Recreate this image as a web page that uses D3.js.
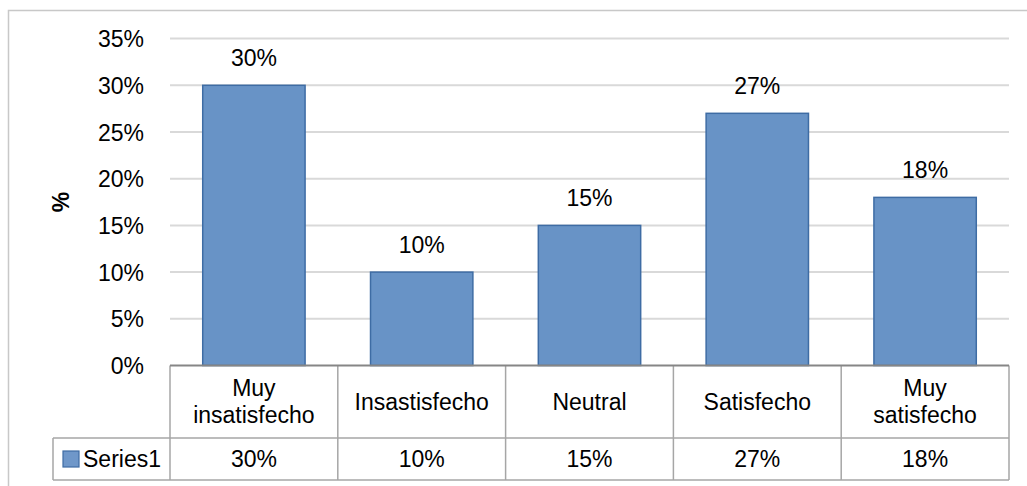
<!DOCTYPE html>
<html>
<head>
<meta charset="utf-8">
<script src="https://cdn.jsdelivr.net/npm/d3@7"></script>
<style>
  body { margin: 0; background: #fff; }
  svg text { font-family: "Liberation Sans", Arial, sans-serif; fill: #000; }
</style>
</head>
<body>
<svg id="chart" width="1027" height="486"></svg>
<script>
"use strict"
// Satisfaction survey, one series shown as bars plus an Excel style data table

var categories = [["Muy", "insatisfecho"], ["Insastisfecho"], ["Neutral"], ["Satisfecho"], ["Muy", "satisfecho"]],
    values = [0.30, 0.10, 0.15, 0.27, 0.18],
    yTicks = [0, 0.05, 0.10, 0.15, 0.20, 0.25, 0.30, 0.35],
    seriesName = "Series1",
    yTitle = "%";

var svg = d3.select("svg#chart"),
    fontSize = 23,
    plotLeft = 170, plotRight = 1009,  // plot area edges
    plotTop = 38.6, plotBase = 365.5,  // 35% line and 0% line
    rowSplit = 438, tableBottom = 480,
    legendLeft = 53,
    pct = d3.format(".0%");

var x = d3.scaleBand()
    .domain(d3.range(values.length))
    .range([plotLeft, plotRight])
    .paddingInner(0.39)
    .paddingOuter(0.195);

var y = d3.scaleLinear()
    .domain([0, 0.35])
    .range([plotBase, plotTop]);

// outer chart frame (cut at right and bottom like the source image)
svg.append("rect")
    .attr("x", 8.5).attr("y", 10.5)
    .attr("width", 1040).attr("height", 500)
    .attr("fill", "none")
    .attr("stroke", "#c8c8c8")
    .attr("stroke-width", 1.5);

// gridlines
svg.append("g")
  .selectAll("line")
    .data(yTicks.slice(1))
  .enter().append("line")
    .attr("x1", plotLeft).attr("x2", plotRight)
    .attr("y1", function(d) { return y(d); })
    .attr("y2", function(d) { return y(d); })
    .attr("stroke", "#d9d9d9")
    .attr("stroke-width", 2);

// y axis labels
var yAxis = d3.axisLeft(y).tickValues(yTicks).tickFormat(pct).tickSize(0).tickPadding(0);
var gy = svg.append("g")
    .attr("transform", "translate(144,0)")
    .call(yAxis);
gy.attr("font-family", null).attr("font-size", null);
gy.select(".domain").remove();
gy.selectAll("text")
    .attr("font-size", fontSize)
    .attr("fill", "#000")
    .attr("dy", "0.35em");

// axis title
svg.append("text")
    .attr("transform", "translate(61,202) rotate(-90)")
    .attr("text-anchor", "middle")
    .attr("dy", "0.35em")
    .attr("font-size", fontSize)
    .attr("font-weight", "bold")
    .text(yTitle);

// bars
svg.append("g")
  .selectAll("rect")
    .data(values)
  .enter().append("rect")
    .attr("x", function(d, i) { return x(i); })
    .attr("y", function(d) { return y(d); })
    .attr("width", x.bandwidth())
    .attr("height", function(d) { return y(0) - y(d); })
    .attr("fill", "#6893c6")
    .attr("stroke", "#3e6ca4")
    .attr("stroke-width", 1.5);

// data labels
svg.append("g")
  .selectAll("text")
    .data(values)
  .enter().append("text")
    .attr("x", function(d, i) { return x(i) + x.bandwidth() / 2; })
    .attr("y", function(d) { return y(d) - 19; })
    .attr("text-anchor", "middle")
    .attr("font-size", fontSize)
    .text(function(d) { return pct(d); });

// data table
var step = x.step(),
    colEdge = function(i) { return plotLeft + i * step; },
    table = svg.append("g").attr("stroke", "#a6a6a6").attr("stroke-width", 1.5);

table.append("line").attr("x1", legendLeft).attr("x2", plotRight).attr("y1", rowSplit).attr("y2", rowSplit);
table.append("line").attr("x1", legendLeft).attr("x2", plotRight).attr("y1", tableBottom).attr("y2", tableBottom);
table.append("line").attr("x1", legendLeft).attr("x2", legendLeft).attr("y1", rowSplit).attr("y2", tableBottom);
table.selectAll("line.col")
    .data(d3.range(values.length + 1))
  .enter().append("line")
    .attr("class", "col")
    .attr("x1", colEdge).attr("x2", colEdge)
    .attr("y1", plotBase).attr("y2", tableBottom);

// category axis line
svg.append("line")
    .attr("x1", plotLeft).attr("x2", plotRight)
    .attr("y1", plotBase).attr("y2", plotBase)
    .attr("stroke", "#868686")
    .attr("stroke-width", 2);

// category labels
var lineH = 27,
    catMid = (plotBase + rowSplit) / 2;
svg.append("g")
  .selectAll("text")
    .data(categories)
  .enter().append("text")
    .attr("x", function(d, i) { return x(i) + x.bandwidth() / 2; })
    .attr("y", function(d) { return catMid - (d.length - 1) * lineH / 2; })
    .attr("text-anchor", "middle")
    .attr("font-size", fontSize)
    .each(function(d) {
      var t = d3.select(this), cx = t.attr("x");
      d.forEach(function(s, k) {
        t.append("tspan").attr("x", cx).attr("dy", k == 0 ? "0.35em" : lineH).text(s);
      });
    });

// value row
var valMid = (rowSplit + tableBottom) / 2;
svg.append("g")
  .selectAll("text")
    .data(values)
  .enter().append("text")
    .attr("x", function(d, i) { return x(i) + x.bandwidth() / 2; })
    .attr("y", valMid)
    .attr("dy", "0.35em")
    .attr("text-anchor", "middle")
    .attr("font-size", fontSize)
    .text(function(d) { return pct(d); });

// legend key in the table
svg.append("rect")
    .attr("x", 63).attr("y", 451)
    .attr("width", 16).attr("height", 16)
    .attr("fill", "#6f97c9")
    .attr("stroke", "#3e6ca4")
    .attr("stroke-width", 1.2);
svg.append("text")
    .attr("x", 83).attr("y", valMid)
    .attr("dy", "0.35em")
    .attr("font-size", fontSize)
    .text(seriesName);
</script>
</body>
</html>
